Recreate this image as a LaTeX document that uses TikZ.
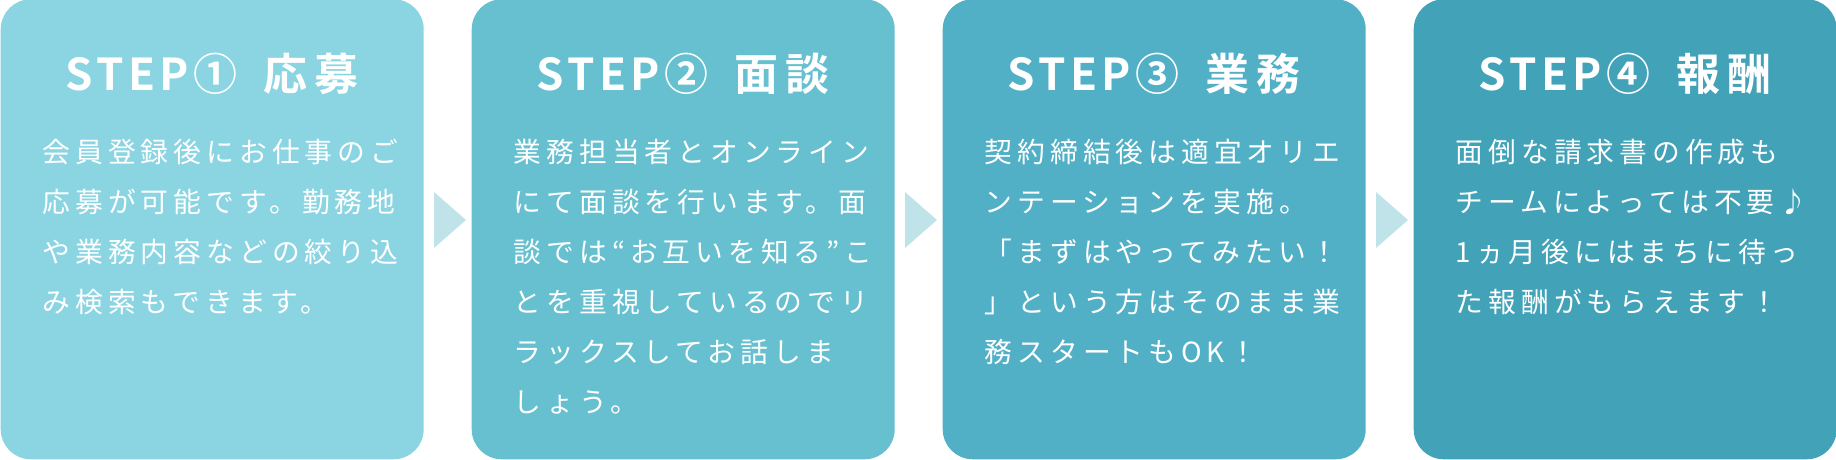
\documentclass[tikz,border=0pt]{standalone}
\usepackage{fontspec}
\setmainfont{Noto Sans CJK JP}
\newfontfamily\bodyfont[LetterSpace=18]{Noto Sans CJK JP}
\newfontfamily\headfont[LetterSpace=10]{Noto Sans CJK JP Bold}
\definecolor{stepA}{HTML}{8BD5E3}
\definecolor{stepB}{HTML}{66C0D0}
\definecolor{stepC}{HTML}{52B0C6}
\definecolor{stepD}{HTML}{41A2B8}
\definecolor{chev}{HTML}{BFE3E9}
\begin{document}
\begin{tikzpicture}
	[	card/.style={rectangle,draw=none,rounded corners=.3cm,minimum width=4.23cm,minimum height=4.6cm,anchor=south west},
	head/.style={text=white,font=\headfont\fontsize{12.5}{14}\selectfont},
	body/.style={text=white,anchor=north west,align=left,inner sep=0pt,font=\bodyfont\fontsize{7.9}{14.2}\selectfont},
	arr/.style={fill=chev,draw=none}
	]
	\useasboundingbox (0,0) rectangle (18.36,4.6);
	\node[card,fill=stepA] (s1) at (0,0){};
	\node[card,fill=stepB] (s2) at (4.71,0){};
	\node[card,fill=stepC] (s3) at (9.42,0){};
	\node[card,fill=stepD] (s4) at (14.13,0){};

\node[head] (h1) at ([yshift=-.75cm]s1.north){STEP①\hspace{.6em}応\,募};
\node[head] (h2) at ([yshift=-.75cm]s2.north){STEP②\hspace{.6em}面\,談};
\node[head] (h3) at ([yshift=-.75cm]s3.north){STEP③\hspace{.6em}業\,務};
\node[head] (h4) at ([yshift=-.75cm]s4.north){STEP④\hspace{.6em}報\,酬};

\node[body] (b1) at ([xshift=.42cm,yshift=-1.4cm]s1.north west){会員登録後にお仕事のご\\応募が可能です。勤務地\\や業務内容などの絞り込\\み検索もできます。};
\node[body] (b2) at ([xshift=.42cm,yshift=-1.4cm]s2.north west){業務担当者とオンライン\\にて面談を行います。面\\談では“お互いを知る”こ\\とを重視しているのでリ\\ラックスしてお話しま\\しょう。};
\node[body] (b3) at ([xshift=.42cm,yshift=-1.4cm]s3.north west){契約締結後は適宜オリエ\\ンテーションを実施。\\「まずはやってみたい！\\」という方はそのまま業\\務スタートもOK！};
\node[body] (b4) at ([xshift=.42cm,yshift=-1.4cm]s4.north west){面倒な請求書の作成も\\チームによっては不要♪\\1ヵ月後にはまちに待っ\\た報酬がもらえます！};
	\foreach \x in {4.34,9.05,13.76}
	  \fill[arr] (\x,2.68) -- (\x+.32,2.4) -- (\x,2.12) -- cycle;
\end{tikzpicture}
\end{document}
